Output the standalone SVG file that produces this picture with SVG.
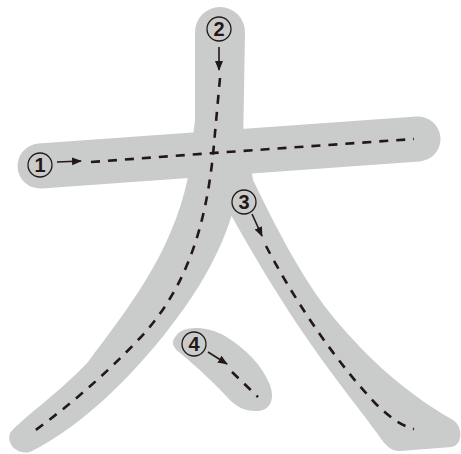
<svg xmlns="http://www.w3.org/2000/svg" width="461" height="454" viewBox="0 0 461 454">
<style>
.band{fill:#cacbcb;stroke:none}
.bandline{fill:none;stroke:#cacbcb;stroke-linecap:round}
.dash{fill:none;stroke:#231815;stroke-width:2.6;stroke-dasharray:9 8}
.arr{fill:none;stroke:#231815;stroke-width:1.6}
.ring{fill:none;stroke:#231815;stroke-width:1.3}
.num{font-family:"Liberation Sans",Arial,sans-serif;font-weight:bold;font-size:20px;fill:#231815;text-anchor:middle}
</style>
<defs>
<marker id="ah" markerUnits="userSpaceOnUse" markerWidth="10" markerHeight="10" viewBox="0 0 10 10" refX="9" refY="5" orient="auto">
<path d="M0,1 L10,5 L0,9 Z" fill="#231815"/>
</marker>
</defs>
<g id="bands">
<g id="band1"><path class="bandline" stroke-width="45" d="M40,166 L418,139"/></g>
<g id="band2"><path class="band" d="M195,32 A25,25 0 0 1 245,32 L243,150 C240,215 215,270 168,330 C135,372 85,425 30,452 C18,455 6,445 10,433 C20,420 60,392 88,362 C125,312 172,255 188,177 L195,120 Z"/></g>
<g id="band3"><path class="band" d="M228,160 L250,160 L253,180 C275,225 300,275 330,313 C360,350 400,390 453,420 C463,426 463,445 452,447 L400,451 C390,451 385,445 377,433 C350,395 300,340 230,213 L222,180 Z"/></g>
<g id="band4"><path class="band" d="M176,336 C182,326 205,325 225,336 C245,348 262,365 270,385 C276,402 268,412 255,411 C245,411 236,407 228,398 C215,384 195,365 180,353 C172,347 171,341 176,336 Z"/></g>
</g>
<g id="connectors">
<path class="dash" d="M91,162 L213,153 L414,139"/>
<path class="dash" d="M220,78 L213,155 C205,230 185,290 140,338 C105,375 70,405 33,432"/>
<path class="dash" d="M266,246 C290,292 330,355 375,403 C390,418 402,426 414,429"/>
<path class="dash" d="M232,372 L258,397"/>
<path class="arr" marker-end="url(#ah)" d="M57,162 L81,161"/>
<path class="arr" marker-end="url(#ah)" d="M219,47 L219,70"/>
<path class="arr" marker-end="url(#ah)" d="M252,214 L262,236"/>
<path class="arr" marker-end="url(#ah)" d="M208,352 L227,364"/>
</g>
<g id="label1"><circle class="ring" cx="40" cy="165" r="12"/><text class="num" x="40" y="172">1</text></g>
<g id="label2"><circle class="ring" cx="219" cy="29" r="12"/><text class="num" x="219" y="36">2</text></g>
<g id="label3"><circle class="ring" cx="244" cy="202" r="12"/><text class="num" x="244" y="209">3</text></g>
<g id="label4"><circle class="ring" cx="194" cy="344" r="12"/><text class="num" x="194" y="351">4</text></g>
</svg>
